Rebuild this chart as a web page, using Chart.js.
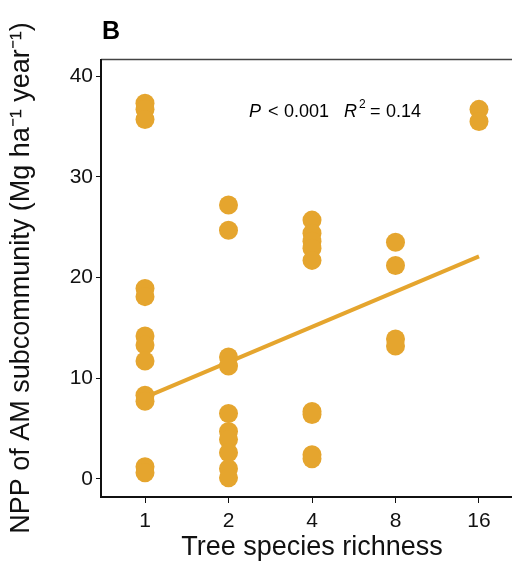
<!DOCTYPE html>
<html>
<head>
<meta charset="utf-8">
<script src="https://cdn.jsdelivr.net/npm/chart.js@4/dist/chart.umd.min.js"></script>
<style>
  html, body { margin: 0; padding: 0; background: #fff; width: 512px; height: 566px; overflow: hidden; }
  #wrap { position: relative; width: 526px; height: 566px; }
</style>
</head>
<body>
<div id="wrap"><canvas id="c" width="526" height="566"></canvas></div>
<script>
// ---- data ----
const richness = [1, 2, 4, 8, 16];
const tickLabels = ['1', '2', '4', '8', '16'];
const npp1  = [37.3, 36.7, 35.7, 18.9, 18.1, 14.2, 13.3, 11.7, 8.3, 7.7, 1.2, 0.6];
const npp2  = [27.2, 24.7, 12.1, 11.2, 6.5, 4.7, 3.9, 2.6, 1.0, 0.1];
const npp4  = [25.7, 24.4, 23.6, 22.9, 21.7, 6.7, 6.4, 2.4, 2.0];
const npp8  = [23.5, 21.2, 13.9, 13.2];
const npp16 = [36.7, 35.5];
const fitRichness = [1, 16];
const fitValues = [8.1, 22.1];
const yTicks = [0, 10, 20, 30, 40];

const COL = '#E5A52E';
const FONT = "'Liberation Sans', Arial, Helvetica, sans-serif";

const groups = [npp1, npp2, npp4, npp8, npp16];
const points = [];
groups.forEach((arr, i) => arr.forEach(v => points.push({ x: Math.log2(richness[i]), y: v })));
const fit = fitRichness.map((r, i) => ({ x: Math.log2(r), y: fitValues[i] }));

const frame = {
  id: 'frame',
  afterDraw(chart) {
    const { ctx, chartArea: a } = chart;
    ctx.save();
    ctx.strokeStyle = '#444';
    ctx.lineWidth = 1.5;
    ctx.beginPath();
    ctx.moveTo(a.left, a.top + 0.5);
    ctx.lineTo(a.right, a.top + 0.5);
    ctx.lineTo(a.right - 0.5, a.bottom);
    ctx.stroke();
    ctx.strokeStyle = '#111';
    ctx.lineWidth = 2;
    ctx.beginPath();
    ctx.moveTo(a.left, a.top);
    ctx.lineTo(a.left, a.bottom);
    ctx.lineTo(a.right, a.bottom);
    ctx.stroke();

    // panel letter
    ctx.fillStyle = '#000';
    ctx.textBaseline = 'alphabetic';
    ctx.textAlign = 'left';
    ctx.font = 'bold 25px ' + FONT;
    ctx.fillText('B', 102, 39);

    // statistics annotation
    const y = 117;
    const parts = [
      { t: 'P', f: 'italic 18px ' + FONT, x: 249, dy: 0 },
      { t: '<', f: '18px ' + FONT, x: 268, dy: 0 },
      { t: '0.001', f: '18px ' + FONT, x: 284, dy: 0 },
      { t: 'R', f: 'italic 18px ' + FONT, x: 344, dy: 0 },
      { t: '2', f: '12px ' + FONT, x: 359, dy: -9 },
      { t: '=', f: '18px ' + FONT, x: 370, dy: 0 },
      { t: '0.14', f: '18px ' + FONT, x: 386, dy: 0 }
    ];
    parts.forEach(p => {
      ctx.font = p.f;
      ctx.fillText(p.t, p.x, y + p.dy);
    });
    ctx.restore();
  }
};

new Chart(document.getElementById('c'), {
  type: 'scatter',
  data: {
    datasets: [
      {
        data: points,
        backgroundColor: COL,
        borderColor: COL,
        borderWidth: 0,
        pointRadius: 9.5,
        pointHoverRadius: 9.5
      },
      {
        type: 'line',
        data: fit,
        borderColor: COL,
        borderWidth: 4,
        pointRadius: 0,
        fill: false
      }
    ]
  },
  plugins: [frame],
  options: {
    responsive: false,
    animation: false,
    events: [],
    layout: { autoPadding: false, padding: { top: 59, right: 3, left: 0, bottom: 0 } },
    plugins: { legend: { display: false }, tooltip: { enabled: false } },
    scales: {
      x: {
        type: 'linear',
        min: -0.527,
        max: 4.527,
        afterBuildTicks(s) { s.ticks = richness.map(r => ({ value: Math.log2(r) })); },
        afterFit(s) { s.height = 69; s.paddingLeft = 0; s.paddingRight = 0; },
        ticks: {
          callback: (v) => tickLabels[richness.indexOf(Math.round(Math.pow(2, v)))],
          color: '#111',
          font: { family: FONT, size: 21 },
          padding: 6,
          maxRotation: 0
        },
        grid: { drawOnChartArea: false, tickLength: 6, color: '#111', tickWidth: 1 },
        border: { display: false },
        title: {
          display: true,
          text: 'Tree species richness',
          color: '#111',
          font: { family: FONT, size: 27 },
          padding: { top: 0, bottom: 2 }
        }
      },
      y: {
        min: -1.8,
        max: 41.7,
        afterBuildTicks(s) { s.ticks = yTicks.map(v => ({ value: v })); },
        afterFit(s) { s.width = 101; s.paddingTop = 0; s.paddingBottom = 0; },
        ticks: {
          color: '#111',
          font: { family: FONT, size: 21 },
          padding: 3
        },
        grid: { drawOnChartArea: false, tickLength: 5, color: '#111', tickWidth: 1 },
        border: { display: false },
        title: {
          display: true,
          text: 'NPP of AM subcommunity (Mg ha\u207B\u00B9 year\u207B\u00B9)',
          color: '#111',
          font: { family: FONT, size: 27 },
          padding: { top: 5, bottom: 0 }
        }
      }
    }
  }
});
</script>
</body>
</html>
